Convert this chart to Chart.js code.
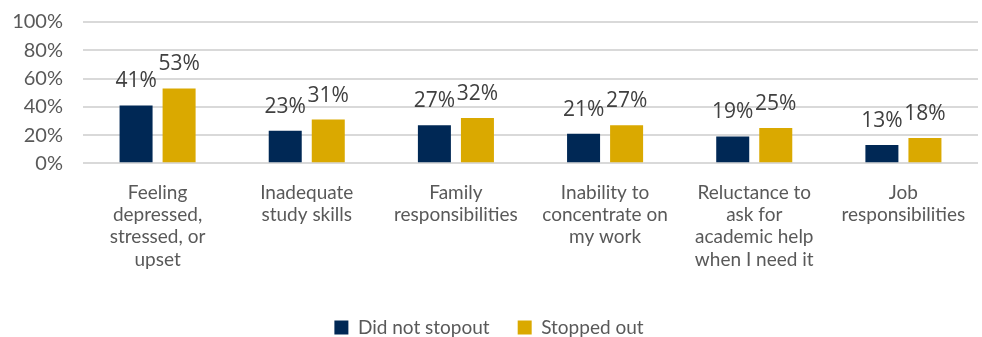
<!DOCTYPE html>
<html>
<head>
<meta charset="utf-8">
<script src="https://cdn.jsdelivr.net/npm/chart.js@4/dist/chart.umd.min.js"></script>
<style>
  html, body { margin: 0; padding: 0; background: #ffffff; }
  #wrap { width: 982px; height: 337px; position: relative; }
</style>
</head>
<body>
<div id="wrap"><canvas id="c"></canvas></div>
<script>
const categories = [
  ["Feeling", "depressed,", "stressed, or", "upset"],
  ["Inadequate", "study skills"],
  ["Family", "responsibilities"],
  ["Inability to", "concentrate on", "my work"],
  ["Reluctance to", "ask for", "academic help", "when I need it"],
  ["Job", "responsibilities"]
];
const seriesNames = ["Did not stopout", "Stopped out"];
const didNotStopout = [41, 23, 27, 21, 19, 13];
const stoppedOut = [53, 31, 32, 27, 25, 18];
const yTicks = [0, 20, 40, 60, 80, 100];

const FONT = "Lato, 'Open Sans', sans-serif";
const TEXT = "#595959";

const labelPlugin = {
  id: 'barLabels',
  afterDatasetsDraw(chart) {
    const ctx = chart.ctx;
    ctx.save();
    ctx.font = "21px 'Open Sans', 'Liberation Sans', sans-serif";
    ctx.fillStyle = "#404040";
    ctx.textAlign = 'center';
    ctx.textBaseline = 'alphabetic';
    chart.data.datasets.forEach((ds, i) => {
      const meta = chart.getDatasetMeta(i);
      meta.data.forEach((bar, j) => {
        ctx.fillText(ds.data[j] + '%', bar.x, bar.y - 18);
      });
    });
    ctx.restore();
  }
};

new Chart(document.getElementById('c'), {
  type: 'bar',
  data: {
    labels: categories,
    datasets: [
      { label: seriesNames[0], data: didNotStopout, backgroundColor: '#002855', borderWidth: 0 },
      { label: seriesNames[1], data: stoppedOut, backgroundColor: '#DAA900', borderWidth: 0 }
    ]
  },
  options: {
    responsive: true,
    maintainAspectRatio: false,
    animation: false,
    devicePixelRatio: 1,
    layout: { padding: { left: 0, right: 4, top: 22, bottom: -10 } },
    datasets: { bar: { categoryPercentage: 0.577, barPercentage: 0.767 } },
    plugins: {
      legend: {
        position: 'bottom',
        labels: {
          font: { family: FONT, size: 19 },
          color: TEXT,
          boxWidth: 14,
          boxHeight: 14,
          padding: 28
        }
      },
      tooltip: { enabled: false }
    },
    scales: {
      x: {
        grid: { display: false },
        border: { display: false },
        afterFit(scale) { scale.paddingTop = 0; scale.paddingBottom = 0; scale.height += 9; },
        ticks: {
          font: { family: FONT, size: 19, lineHeight: 1.18 },
          color: TEXT,
          maxRotation: 0,
          autoSkip: false,
          padding: 10
        }
      },
      y: {
        min: 0,
        max: 100,
        afterBuildTicks(scale) { scale.ticks = yTicks.map(v => ({ value: v })); },
        afterFit(scale) { scale.width = 83; scale.paddingTop = 0; scale.paddingBottom = 0; },
        grid: { color: '#d9d9d9', lineWidth: 2, drawTicks: false },
        border: { display: false },
        ticks: {
          font: { family: FONT, size: 20 },
          color: TEXT,
          padding: 20,
          callback: v => v + '%'
        }
      }
    }
  },
  plugins: [labelPlugin]
});
</script>
</body>
</html>
